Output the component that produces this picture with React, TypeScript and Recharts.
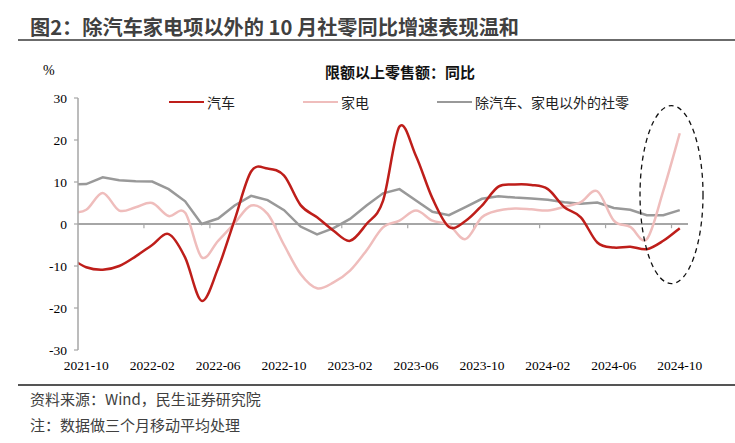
import React from 'react';
import {
  LineChart, Line, XAxis, YAxis, ReferenceLine, ReferenceDot,
} from 'recharts';

// 2021-09 sits half a band left of the axis and is clipped, as in the source chart
const months = [
  '2021-09',
  '2021-10', '2021-11', '2021-12', '2022-01', '2022-02', '2022-03', '2022-04', '2022-05',
  '2022-06', '2022-07', '2022-08', '2022-09', '2022-10', '2022-11', '2022-12', '2023-01',
  '2023-02', '2023-03', '2023-04', '2023-05', '2023-06', '2023-07', '2023-08', '2023-09',
  '2023-10', '2023-11', '2023-12', '2024-01', '2024-02', '2024-03', '2024-04', '2024-05',
  '2024-06', '2024-07', '2024-08', '2024-09', '2024-10',
];

const autoSales = [
  -8.0,
  -10.3, -10.9, -10.0, -7.7, -5.0, -2.4, -8.0, -18.3,
  -10.5, 1.0, 12.5, 13.2, 11.5, 4.5, 1.6, -1.6,
  -4.0, 0.0, 5.5, 23.2, 16.2, 6.1, -0.7, 0.7,
  4.4, 8.9, 9.4, 9.3, 8.3, 4.0, 1.6, -4.4,
  -5.6, -5.4, -6.0, -4.0, -1.0,
];

const applianceSales = [
  2.6,
  3.4, 7.4, 3.2, 4.0, 5.0, 1.9, 2.7, -7.9,
  -4.0, 0.2, 4.4, 2.4, -5.0, -11.9, -15.3, -13.9,
  -11.1, -6.3, -0.8, 0.8, 3.2, 0.8, -0.2, -3.6,
  1.6, 3.2, 3.7, 3.5, 3.2, 4.1, 5.2, 7.8,
  0.8, -0.7, -3.6, 7.9, 21.6,
];

const otherRetail = [
  9.4,
  9.5, 11.1, 10.4, 10.2, 10.1, 8.3, 5.4, 0.0,
  1.3, 4.4, 6.7, 5.7, 3.3, -0.6, -2.5, -1.0,
  1.2, 4.4, 7.3, 8.3, 5.6, 2.9, 2.1, 4.0,
  6.0, 6.6, 6.3, 6.1, 5.8, 5.2, 4.8, 5.1,
  3.8, 3.4, 2.1, 2.1, 3.3,
];

const yTicks = [-30, -20, -10, 0, 10, 20, 30];
const labelIdx = [0, 4, 8, 12, 16, 20, 24, 28, 32, 36];
const bandEdges = [3.5, 7.5, 11.5, 15.5, 19.5, 23.5, 27.5, 31.5, 35.5];

const data = months.map((m, i) => ({
  idx: i - 1,
  month: m,
  auto: autoSales[i],
  appliance: applianceSales[i],
  other: otherRetail[i],
}));

const RED = '#BE1E1A';
const PINK = '#EFBDBC';
const GREY = '#999999';
const AXIS = '#A6A6A6';
const CJK = '"Noto Sans CJK SC", "Noto Sans", sans-serif';
const SERIF = '"Liberation Serif", "DejaVu Serif", serif';

// Excel-style smoothing: cubic bezier through every point (Catmull-Rom, 1/6 handles)
function excelSmooth(context: any) {
  let pts: [number, number][] = [];
  return {
    areaStart() {},
    areaEnd() {},
    lineStart() { pts = []; },
    point(x: number, y: number) { pts.push([+x, +y]); },
    lineEnd() {
      const n = pts.length;
      if (!n) return;
      context.moveTo(pts[0][0], pts[0][1]);
      for (let i = 0; i < n - 1; i++) {
        const p0 = pts[Math.max(i - 1, 0)];
        const p1 = pts[i];
        const p2 = pts[i + 1];
        const p3 = pts[Math.min(i + 2, n - 1)];
        context.bezierCurveTo(
          p1[0] + (p2[0] - p0[0]) / 6, p1[1] + (p2[1] - p0[1]) / 6,
          p2[0] - (p3[0] - p1[0]) / 6, p2[1] - (p3[1] - p1[1]) / 6,
          p2[0], p2[1],
        );
      }
    },
  };
}

const legendItems = [
  { name: '汽车', color: RED, left: 169 },
  { name: '家电', color: PINK, left: 303 },
  { name: '除汽车、家电以外的社零', color: GREY, left: 437 },
];

function Ellipse(props: any) {
  return (
    <ellipse
      cx={props.cx}
      cy={props.cy}
      rx={31.5}
      ry={89}
      fill="none"
      stroke="#111"
      strokeWidth={1.3}
      strokeDasharray="5 4"
    />
  );
}

export default function App() {
  return (
    <div style={{ position: 'absolute', left: 0, top: 0, width: 735, height: 443, background: '#fff', overflow: 'hidden' }}>
      <div style={{ position: 'absolute', left: 30, top: 13, fontFamily: CJK, fontWeight: 700, fontSize: 20.2, color: '#404040', whiteSpace: 'nowrap', lineHeight: '27px' }}>
        图2：除汽车家电项以外的 10 月社零同比增速表现温和
      </div>
      <div style={{ position: 'absolute', left: 18, top: 39, width: 717, height: 1.5, background: '#6b6b6b' }} />

      <div style={{ position: 'absolute', left: 43, top: 62, fontFamily: SERIF, fontSize: 14, color: '#000', lineHeight: '18px' }}>%</div>
      <div style={{ position: 'absolute', left: 250, width: 300, top: 62, textAlign: 'center', fontFamily: CJK, fontWeight: 700, fontSize: 15, color: '#111', lineHeight: '20px' }}>
        限额以上零售额：同比
      </div>

      {legendItems.map((it) => (
        <div key={it.name} style={{ position: 'absolute', left: it.left, top: 92, height: 20, display: 'flex', alignItems: 'center', whiteSpace: 'nowrap' }}>
          <div style={{ width: 35, height: 2.5, background: it.color }} />
          <span style={{ marginLeft: 3, fontFamily: CJK, fontSize: 14, color: '#222' }}>{it.name}</span>
        </div>
      ))}

      <LineChart
        width={735}
        height={443}
        data={data}
        margin={{ top: 98, right: 47, left: 18, bottom: 63 }}
        style={{ position: 'absolute', left: 0, top: 0 }}
      >
        <XAxis
          dataKey="idx"
          type="number"
          domain={[-0.5, 36.5]}
          allowDataOverflow
          ticks={labelIdx}
          interval={0}
          tickFormatter={(v: number) => months[v + 1]}
          axisLine={false}
          tickLine={false}
          tickSize={0}
          tickMargin={10}
          height={30}
          tick={{ fontFamily: SERIF, fontSize: 13.5, fill: '#000' }}
        />
        <YAxis
          domain={[-30, 30]}
          ticks={yTicks}
          interval={0}
          width={60}
          axisLine={{ stroke: AXIS, strokeWidth: 1.5 }}
          tickLine={{ stroke: AXIS, strokeWidth: 1.2 }}
          tickSize={4}
          tickMargin={7}
          tick={{ fontFamily: SERIF, fontSize: 13.5, fill: '#000' }}
        />
        <ReferenceLine y={0} stroke={AXIS} strokeWidth={1.8} />
        {bandEdges.map((x) => (
          <ReferenceLine
            key={x}
            segment={[{ x, y: 0 }, { x, y: -1 }]}
            stroke={AXIS}
            strokeWidth={1.2}
          />
        ))}
        <Line dataKey="other" type="linear" stroke={GREY} strokeWidth={2.5} dot={false} isAnimationActive={false} />
        <Line dataKey="appliance" type={excelSmooth as any} stroke={PINK} strokeWidth={2.5} dot={false} isAnimationActive={false} />
        <Line dataKey="auto" type={excelSmooth as any} stroke={RED} strokeWidth={2.5} dot={false} isAnimationActive={false} />
        <ReferenceDot x={35.5} y={7} r={1} shape={<Ellipse />} />
      </LineChart>

      <div style={{ position: 'absolute', left: 18, top: 384, width: 717, height: 2, background: '#555' }} />
      <div style={{ position: 'absolute', left: 30, top: 389, fontFamily: CJK, fontSize: 15, color: '#404040', lineHeight: '20px', whiteSpace: 'nowrap' }}>
        资料来源：Wind，民生证券研究院
      </div>
      <div style={{ position: 'absolute', left: 30, top: 415, fontFamily: CJK, fontSize: 15, color: '#404040', lineHeight: '20px', whiteSpace: 'nowrap' }}>
        注：数据做三个月移动平均处理
      </div>
    </div>
  );
}
